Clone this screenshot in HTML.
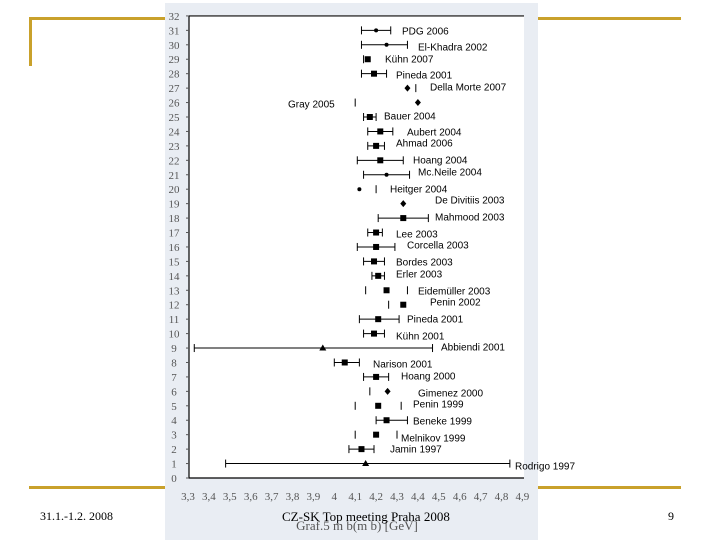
<!DOCTYPE html>
<html><head><meta charset="utf-8"><style>
body{margin:0;width:720px;height:540px;background:#fff;position:relative;overflow:hidden;font-family:"Liberation Serif",serif}
.gold{position:absolute;background:#c9a12b}
.ft{position:absolute;font-size:12px;color:#000}
</style></head><body>
<div class="gold" style="left:29px;top:17px;width:652px;height:3px"></div>
<div class="gold" style="left:29px;top:17px;width:3px;height:49px"></div>
<div class="gold" style="left:29px;top:486px;width:652px;height:3px"></div>
<svg id="chart" width="720" height="540" style="position:absolute;left:0;top:0"></svg>
<div class="ft" style="left:40px;top:509px">31.1.-1.2. 2008</div>
<div class="ft" style="left:282px;top:509px;font-size:13px">CZ-SK Top meeting Praha 2008</div>
<div class="ft" style="left:668px;top:509px">9</div>
<script>
const rows=[31,30,29,28,27,26,25,24,23,22,21,20,19,18,17,16,15,14,13,12,11,10,9,8,7,6,5,4,3,2,1];
const names=["PDG 2006","El-Khadra 2002","Kühn 2007","Pineda 2001","Della Morte 2007","Gray 2005","Bauer 2004","Aubert 2004","Ahmad 2006","Hoang 2004","Mc.Neile 2004","Heitger 2004","De Divitiis 2003","Mahmood 2003","Lee 2003","Corcella 2003","Bordes 2003","Erler 2003","Eidemüller 2003","Penin 2002","Pineda 2001","Kühn 2001","Abbiendi 2001","Narison 2001","Hoang 2000","Gimenez 2000","Penin 1999","Beneke 1999","Melnikov 1999","Jamin 1997","Rodrigo 1997"];
const values=[4.20,4.25,4.16,4.19,4.35,4.40,4.17,4.22,4.20,4.22,4.25,4.12,4.33,4.33,4.20,4.20,4.19,4.21,4.25,4.33,4.21,4.19,3.945,4.05,4.20,4.255,4.21,4.25,4.20,4.13,4.15];
const lows=[4.13,4.13,4.14,4.13,4.35,4.10,4.14,4.16,4.16,4.11,4.14,4.12,4.33,4.21,4.16,4.11,4.14,4.18,4.15,4.26,4.12,4.14,3.33,4.00,4.14,4.17,4.10,4.20,4.10,4.07,3.48];
const highs=[4.27,4.35,4.17,4.25,4.39,4.40,4.20,4.28,4.24,4.33,4.36,4.20,4.33,4.45,4.23,4.29,4.24,4.24,4.35,4.33,4.31,4.24,4.47,4.12,4.26,4.255,4.32,4.35,4.30,4.19,4.84];
const markers=["dot","dot","sq","sq","dia","dia","sq","sq","sq","sq","dot","dot","dia","sq","sq","sq","sq","sq","sq","sq","sq","sq","tri","sq","sq","dia","sq","sq","sq","sq","tri"];
const withLine=[1,1,0,1,0,0,1,1,1,1,1,0,0,1,1,1,1,1,0,0,1,1,1,1,1,0,0,1,0,1,1];
const xTicks=["3,3","3,4","3,5","3,6","3,7","3,8","3,9","4","4,1","4,2","4,3","4,4","4,5","4,6","4,7","4,8","4,9"];
// layout: label positions (px)
const labelX=[402,418,385,396,430,288,384,407,396,413,418,390,435,435,396,407,396,396,418,430,407,396,441,373,401,418,413,413,401,390,515];
const labelY=[31,47,59,75,87,104,116,132,143,160,172,189,200,217,234,245,262,274,291,302,319,336,347,364,376,393,404,421,438,449,466];
const svg=document.getElementById('chart');const NS='http://www.w3.org/2000/svg';
const X0=188,XU=209,Y0=478,YU=14.44;
const xs=v=>X0+(v-3.3)*XU, ys=r=>Y0-r*YU;
function mk(t,a,p){const e=document.createElementNS(NS,t);for(const k in a)e.setAttribute(k,a[k]);(p||svg).appendChild(e);return e;}
const bg=mk('rect',{x:165,y:3,width:373,height:537,fill:'#e9edf3'});


const pa=mk('rect',{x:189,y:15,width:335,height:463,fill:'#fff'});


const ax=mk('path',{d:`M${X0+1} ${ys(32)}H524M${X0+1} ${ys(32)}V${Y0}H524`,stroke:'#000','stroke-width':1.2,fill:'none'});


for(let i=0;i<=32;i++){
 const t=mk('text',{x:174,y:ys(i)+4,'font-size':11,fill:'#555','text-anchor':'middle','font-family':'Liberation Serif,serif'});t.textContent=i;
 
 
 mk('line',{x1:186,x2:189,y1:ys(i),y2:ys(i),stroke:'#555'});
}
xTicks.forEach((s,i)=>{
 const v=3.3+i*0.1;
 const t=mk('text',{x:xs(v),y:500,'font-size':11,fill:'#555','text-anchor':'middle','font-family':'Liberation Serif,serif'});t.textContent=s;
 
 
});
const xt=mk('text',{x:357,y:530,'font-size':13,fill:'#555','text-anchor':'middle','font-family':'Liberation Serif,serif'});xt.textContent='Graf.5 m b(m b) [GeV]';


rows.forEach((r,i)=>{
 const g=mk('g',{});
 
 
 const y=ys(r),x=xs(values[i]),xl=xs(lows[i]),xh=xs(highs[i]);
 if(withLine[i])mk('line',{x1:xl,x2:xh,y1:y,y2:y,stroke:'#000','stroke-width':1},g);
 [xl,xh].forEach(c=>{if(Math.abs(c-x)>3)mk('line',{x1:c,x2:c,y1:y-4,y2:y+4,stroke:'#000','stroke-width':1},g);});
 const m=markers[i];
 if(m==='sq')mk('rect',{x:x-3,y:y-3,width:6,height:6,fill:'#000'},g);
 else if(m==='dot')mk('circle',{cx:x,cy:y,r:2,fill:'#000'},g);
 else if(m==='dia')mk('path',{d:`M${x} ${y-3.5}L${x+3} ${y}L${x} ${y+3.5}L${x-3} ${y}Z`,fill:'#000'},g);
 else mk('path',{d:`M${x} ${y-3.5}L${x+3.5} ${y+2.5}L${x-3.5} ${y+2.5}Z`,fill:'#000'},g);
 const t=mk('text',{x:labelX[i],y:labelY[i]+3.5,'font-size':10,fill:'#000','font-family':'Liberation Sans,sans-serif'},g);t.textContent=names[i];
});
</script>
</body></html>
